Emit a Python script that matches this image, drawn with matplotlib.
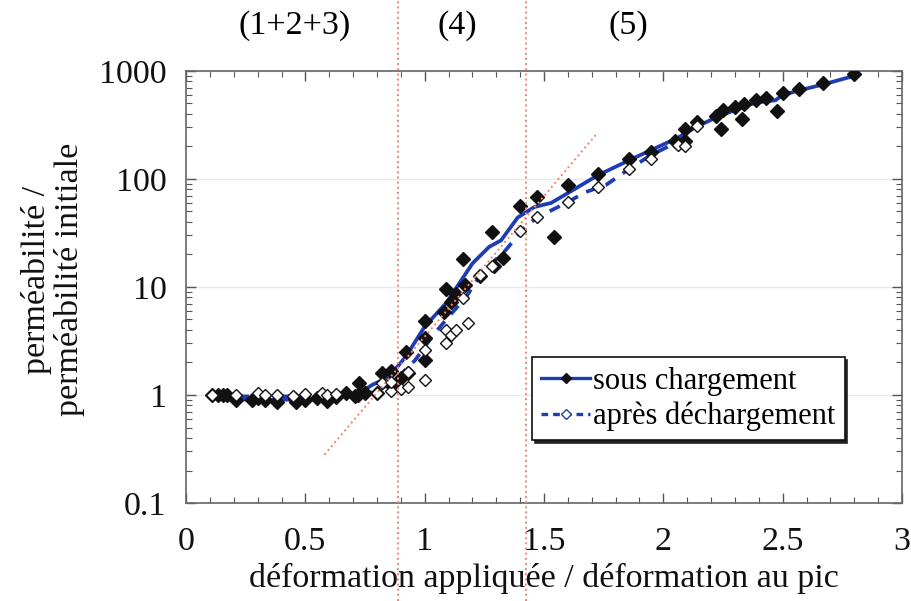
import numpy as np
import matplotlib
matplotlib.use("Agg")
import matplotlib.pyplot as plt
from matplotlib.lines import Line2D
from matplotlib.ticker import LogLocator, FuncFormatter, MultipleLocator

plt.rcParams['font.family'] = ['Liberation Serif', 'DejaVu Serif']

# points "sous chargement" (filled diamonds)
load_x = [0.11, 0.135, 0.155, 0.17, 0.21, 0.275, 0.30, 0.33, 0.38, 0.455, 0.46, 0.50,
          0.55, 0.59, 0.63, 0.67, 0.71, 0.72, 0.725, 0.75, 0.80, 0.82, 0.86, 0.86,
          0.90, 0.92, 0.93, 1.00, 1.00, 1.00, 1.08, 1.09, 1.11, 1.13, 1.16, 1.17,
          1.23, 1.28, 1.29, 1.33, 1.40, 1.47, 1.54, 1.60, 1.725, 1.855, 1.95, 2.05,
          2.09, 2.09, 2.14, 2.22, 2.24, 2.25, 2.30, 2.33, 2.34, 2.39, 2.43, 2.475,
          2.50, 2.57, 2.67, 2.80]
load_y = [1.0, 1.0, 1.0, 1.0, 0.90, 0.90, 0.94, 0.90, 0.86, 0.92, 0.86, 0.90,
          0.94, 0.88, 0.96, 1.04, 0.98, 1.0, 1.29, 1.04, 1.04, 1.6, 1.67, 1.24,
          1.44, 2.5, 1.6, 2.1, 3.4, 4.8, 5.9, 9.6, 7.3, 8.6, 18.1, 10.4,
          12.6, 32, 15.6, 18.5, 56, 68, 29, 88, 110, 153, 177, 225,
          225, 290, 336, 380, 290, 435, 465, 360, 495, 540, 560, 425,
          625, 680, 765, 935]

# points "après déchargement" (open diamonds)
unload_x = [0.11, 0.21, 0.30, 0.33, 0.38, 0.45, 0.50, 0.57, 0.59, 0.63, 0.80, 0.82,
            0.86, 0.86, 0.90, 0.93, 0.93, 1.00, 1.00, 1.09, 1.09, 1.11, 1.13, 1.18,
            1.16, 1.23, 1.28, 1.40, 1.47, 1.60, 1.725, 1.855, 1.95, 2.06, 2.09, 2.14]
unload_y = [1.0, 1.0, 1.05, 1.0, 1.0, 0.98, 1.02, 1.05, 1.0, 1.02, 1.04, 1.29,
            1.09, 1.32, 1.14, 1.19, 1.63, 1.38, 2.6, 3.0, 4.0, 3.6, 4.0, 4.6,
            7.9, 12.9, 15.6, 33, 44, 61, 84, 123, 153, 205, 200, 310]

# trend curves
load_line_x = [0.13, 0.30, 0.50, 0.65, 0.72, 0.78, 0.85, 0.92, 1.00, 1.09, 1.14, 1.20,
               1.27, 1.32, 1.39, 1.46, 1.53, 1.60, 1.725, 1.86, 1.96, 2.06, 2.14, 2.22,
               2.34, 2.39, 2.47, 2.50, 2.57, 2.67, 2.80]
load_line_y = [0.93, 0.90, 0.91, 0.95, 1.02, 1.24, 1.47, 2.25, 4.3, 7.1, 10.4, 16.5,
               23.5, 27, 44, 55, 60, 74, 108, 150, 190, 240, 305, 370,
               470, 510, 535, 600, 660, 750, 900]
unload_line_x = [0.13, 0.30, 0.50, 0.65, 0.75, 0.82, 0.89, 0.96, 1.03, 1.10, 1.17, 1.24,
                 1.34, 1.42, 1.475, 1.60, 1.67, 1.76, 1.855, 1.95, 2.05, 2.14]
unload_line_y = [0.97, 0.97, 0.97, 0.98, 1.0, 1.15, 1.47, 2.1, 3.45, 5.3, 7.9, 13.5,
                 22, 36, 44.5, 61, 75, 88, 123, 167, 215, 325]

# guide lines
stage_bounds = [0.89, 1.425]
slope_x = [0.58, 1.72]
slope_y = [0.28, 260]
stage_labels = ['(1+2+3)', '(4)', '(5)']
stage_label_x = [0.455, 1.135, 1.855]

blue = '#1f3cb4'
red = '#f4846a'
fs = 24.5

fig = plt.figure(figsize=(9.12, 6.01), dpi=100)
ax = fig.add_axes([0.204, 0.163, 0.785, 0.719])

ax.set_yscale('log')
ax.set_xlim(0, 3)
ax.set_ylim(0.1, 1000)

ax.grid(True, which='major', axis='y', color='#e6e9ec', lw=1.0)
ax.set_axisbelow(True)

ax.plot(load_line_x, load_line_y, color=blue, lw=2.7, zorder=3)
ax.plot(unload_line_x, unload_line_y, color=blue, lw=2.7, ls=(0, (3, 2.5)), zorder=3)

ax.plot(load_x, load_y, 'D', ms=7.2, color='#111111', mec='#111111', zorder=4)
ax.plot(unload_x, unload_y, 'D', ms=6.5, mfc='white', mec='#111111', mew=1.0, zorder=4)

ax.plot(slope_x, slope_y, color=red, lw=1.4, ls=':', zorder=5)
for b in stage_bounds:
    ax.axvline(b, ymin=-0.227, ymax=1.164, color=red, lw=1.4, ls=':',
               clip_on=False, zorder=5)

for lab, xl in zip(stage_labels, stage_label_x):
    ax.text(xl, 1.105, lab, transform=ax.get_xaxis_transform(), ha='center',
            va='center', fontsize=fs)

ax.xaxis.set_major_locator(MultipleLocator(0.5))
ax.xaxis.set_minor_locator(MultipleLocator(0.1))
ax.xaxis.set_major_formatter(FuncFormatter(lambda v, p: '%g' % v))
ax.yaxis.set_major_locator(LogLocator(base=10, numticks=10))
ax.yaxis.set_minor_locator(LogLocator(base=10, subs=np.arange(2, 10), numticks=20))
ax.yaxis.set_major_formatter(FuncFormatter(lambda v, p: '%g' % v))

ax.tick_params(which='both', direction='in', top=True, right=True, colors='#555555',
               labelcolor='#111111')
ax.tick_params(which='major', length=7, width=1.0, labelsize=fs)
ax.tick_params(which='minor', length=4, width=0.8)
ax.tick_params(axis='y', pad=14)
ax.tick_params(axis='x', pad=17)
for s in ax.spines.values():
    s.set_color('#666666')
    s.set_linewidth(1.2)

ax.set_xlabel('déformation appliquée / déformation au pic', fontsize=fs, labelpad=4,
              color='#111111')
fig.text(0.058, 0.535, 'perméabilité /\nperméabilité initiale', rotation=90,
         ha='center', va='center', fontsize=fs, linespacing=1.1, color='#111111')

handles = [Line2D([], [], color=blue, lw=2.4, marker='D', ms=5, mfc='#111111',
                  mec='#111111'),
           Line2D([], [], color=blue, lw=2.4, ls=(0, (2, 1.5)), marker='D', ms=5,
                  mfc='white', mec='#1f3cb4')]
leg = ax.legend(handles, ['sous chargement', 'après déchargement'], loc='lower right',
                bbox_to_anchor=(0.92, 0.145), fontsize=22, frameon=True, fancybox=False,
                shadow={'color': '#222222', 'alpha': 1.0}, handlelength=1.6,
                handletextpad=0.1, borderpad=0.3, labelspacing=0.2, borderaxespad=0)
leg.get_frame().set_edgecolor('#111111')
leg.get_frame().set_linewidth(1.2)
leg.set_zorder(6)

fig.savefig('out.png', dpi=100)
